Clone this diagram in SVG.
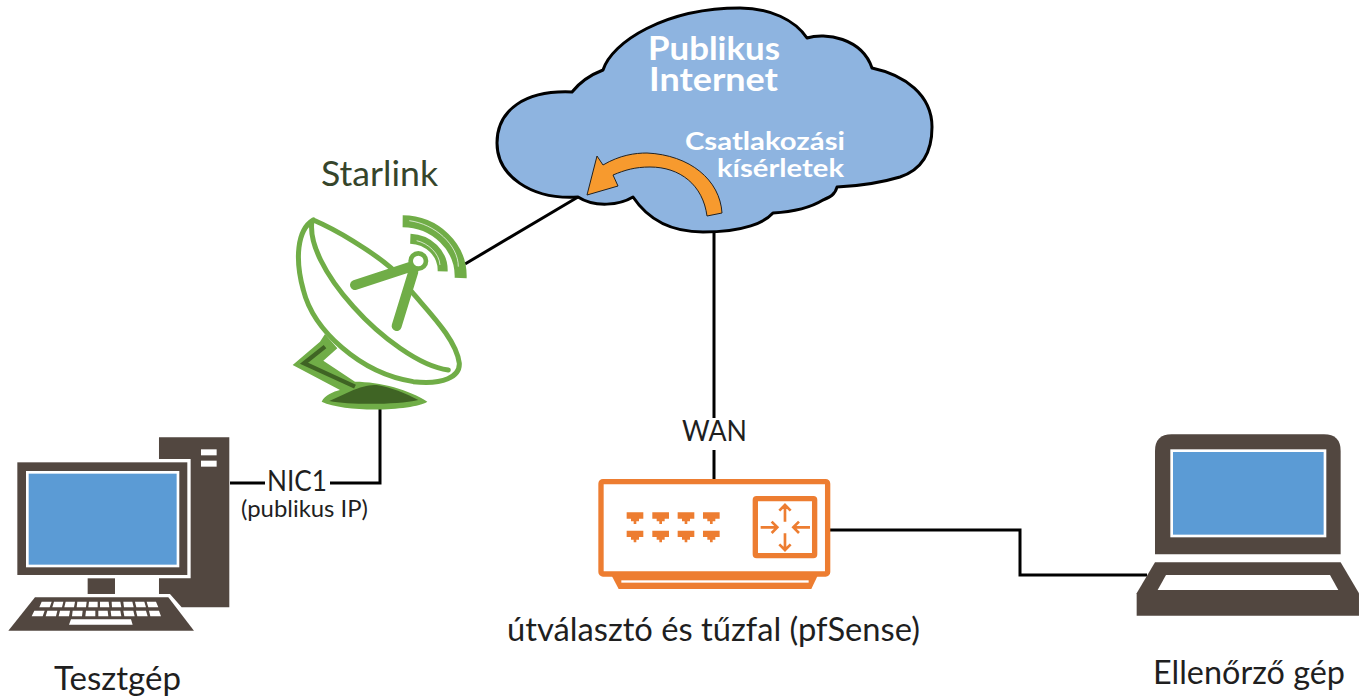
<svg xmlns="http://www.w3.org/2000/svg" width="1359" height="697" viewBox="0 0 1359 697">
<style>
text{font-family:Lato,"Open Sans","DejaVu Sans",sans-serif;fill:#1f1f1f}
.w{fill:#fff;font-weight:700}
.g{fill:none;stroke:#70ad47;stroke-width:15;stroke-linecap:round;stroke-linejoin:round}
.c{fill:none;stroke:#000;stroke-width:3}
.b{fill:#524740}
.s{fill:#5b9bd5;stroke:#fff;stroke-width:8}
.o{fill:#ed7d31}
.ol{fill:none;stroke:#ed7d31;stroke-linejoin:round}
</style>
<rect width="1359" height="697" fill="#fff"/>
<g id="connectors">
<path class="c" d="M465 264L578 197"/>
<path class="c" d="M714 232V418M714 450V482"/>
<path class="c" d="M380 408V483H330M230 483H265"/>
<path class="c" d="M830 530H1020V575H1147"/>
</g>
<g id="cloud">
<path fill="#8eb4e0" stroke="#000" stroke-width="3" stroke-linejoin="round" d="M578 197C530 200 497 175 497 143C497 110 525 90 572 92C580 82 590 75 603 70C612 42 665 8 740 8C770 8 795 20 807 38C825 32 862 38 872 68C905 75 932 95 932 127C932 160 915 172 900 177C880 183 860 186 837 187C835 195 830 197 823 200C810 208 790 212 773 213C765 222 745 232 703 232C665 232 645 215 633 197C620 205 595 208 578 197Z"/>
<path fill="#f79a2e" stroke="#222" stroke-width="1" d="M587 195L597 156L603 165C620 155 635 153 647 153C690 155 720 180 722 213L707 216C703 185 680 167 650 167C635 167 625 170 613 175L618 186Z"/>
<text class="w" x="648" y="60" font-size="33" textLength="132" lengthAdjust="spacingAndGlyphs">Publikus</text>
<text class="w" x="649" y="91" font-size="33" textLength="129" lengthAdjust="spacingAndGlyphs">Internet</text>
<text class="w" x="685" y="150" font-size="25" textLength="160" lengthAdjust="spacingAndGlyphs">Csatlakozási</text>
<text class="w" x="717" y="177" font-size="25" textLength="127" lengthAdjust="spacingAndGlyphs">kísérletek</text>
</g>
<g id="starlink">
<text x="321" y="186" font-size="34" style="fill:#36452b" textLength="117" lengthAdjust="spacingAndGlyphs">Starlink</text>
<g transform="translate(280 200) scale(.3333)">
<path class="g" d="M100 60C50 90 45 180 70 270C100 390 240 520 400 545C490 555 540 530 538 490C530 420 450 340 395 275M100 60C170 90 270 150 335 205M95 70C90 130 130 220 220 320C300 410 420 500 505 510"/>
<path d="M135 402L172 445L130 482L225 545C300 545 390 570 442 605C400 632 200 640 125 605C135 585 160 575 180 570L38 495L120 425Z" fill="#70ad47"/>
<path d="M135 440L72 490L225 560" fill="none" stroke="#3f6424" stroke-width="13"/>
<path d="M148 603L220 570C250 558 270 555 290 555C330 560 380 582 415 600C350 615 210 615 148 603Z" fill="#3f6424"/>
<path d="M225 255L392 200M350 378L400 215" fill="none" stroke="#70ad47" stroke-width="30" stroke-linecap="round"/>
<circle cx="415" cy="183" r="23" fill="#fff" stroke="#70ad47" stroke-width="14"/>
<path d="M368 64C465 65 545 140 542 234" fill="none" stroke="#70ad47" stroke-width="36"/>
<path d="M388 62C465 72 535 135 535 200" fill="none" stroke="#fff" stroke-width="3" opacity=".7"/>
<path d="M391 116C445 118 490 160 488 214" fill="none" stroke="#70ad47" stroke-width="30"/>
<path d="M410 122C445 130 478 160 480 195" fill="none" stroke="#fff" stroke-width="3" opacity=".7"/>
</g>
</g>
<g id="tesztgep">
<g transform="translate(0 430) scale(.3333)">
<path class="b" d="M477 22H688V532H545L510 492H477V445H572V87H477Z"/>
<rect x="603" y="58" width="47" height="18" fill="#fff"/><rect x="603" y="92" width="47" height="18" fill="#fff"/>
<rect class="b" x="52" y="97" width="510" height="338"/>
<rect class="s" x="82" y="127" width="452" height="281"/>
<rect class="b" x="263" y="445" width="82" height="47"/>
<path class="b" d="M105 502H505L582 602H25Z"/>
<path fill="#fff" d="M125 515h30l-6 17h-31zM162 515h28l-4 17h-29zM197 515h28l-3 17h-29zM232 515h28l-2 17h-28zM267 515h26v17h-28zM300 515h26l2 17h-28zM335 515h26l3 17h-28zM370 515h27l4 17h-29zM405 515h28l5 17h-29zM440 515h28l7 17h-30zM103 542h31l-6 17h-33zM142 542h30l-4 17h-31zM180 542h30l-3 17h-31zM218 542h30l-2 17h-30zM258 542h28v17h-30zM295 542h28l2 17h-30zM332 542h29l3 17h-30zM370 542h30l4 17h-31zM408 542h30l5 17h-31zM447 542h30l6 17h-32zM213 568h180l5 16H207z"/>
</g>
<text x="54" y="690" font-size="32" textLength="127" lengthAdjust="spacingAndGlyphs">Tesztgép</text>
</g>
<g id="nic1-label">
<text x="267" y="491" font-size="28" textLength="60" lengthAdjust="spacingAndGlyphs">NIC1</text>
<text x="241" y="517" font-size="23" textLength="127" lengthAdjust="spacingAndGlyphs">(publikus IP)</text>
</g>
<g id="router">
<text x="682" y="441" font-size="28" textLength="65" lengthAdjust="spacingAndGlyphs">WAN</text>
<g transform="translate(590 470) scale(.3333)">
<rect class="ol" x="33" y="35" width="680" height="277" rx="6" stroke-width="16"/>
<path class="o" d="M64 315H684L664 357H86Z"/>
<rect x="94" y="331" width="562" height="7" fill="#fff"/>
<rect class="ol" x="496" y="86" width="178" height="171" rx="4" stroke-width="16"/>
<path fill="none" stroke="#ed7d31" stroke-width="8" d="M585 105V155M568 122L585 105L602 122M585 240V190M568 223L585 240L602 223M512 172H562M545 155L562 172L545 189M660 172H610M627 155L610 172L627 189"/>
<g id="ports" class="o">
<path d="M110 127h50v19h-13v8h-8v8h-8v-8h-8v-8h-13zM187 127h50v19h-13v8h-8v8h-8v-8h-8v-8h-13zM263 127h50v19h-13v8h-8v8h-8v-8h-8v-8h-13zM339 127h50v19h-13v8h-8v8h-8v-8h-8v-8h-13z"/>
<path d="M110 182h50v19h-13v8h-8v8h-8v-8h-8v-8h-13zM187 182h50v19h-13v8h-8v8h-8v-8h-8v-8h-13zM263 182h50v19h-13v8h-8v8h-8v-8h-8v-8h-13zM339 182h50v19h-13v8h-8v8h-8v-8h-8v-8h-13z"/>
</g>
</g>
<text x="507" y="641" font-size="32" textLength="413" lengthAdjust="spacingAndGlyphs">útválasztó és tűzfal (pfSense)</text>
</g>
<g id="ellenorzo">
<g transform="translate(1130 425) scale(.3333)">
<path class="b" d="M75 388V78Q75 28 125 28H582Q632 28 632 78V388Z"/>
<rect class="s" x="125" y="77" width="460" height="256"/>
<path class="b" d="M75 412H632L687 505V572H20V505Z"/>
<path fill="#fff" d="M108 450H600L625 495H83Z"/>
</g>
<text x="1153" y="684" font-size="32" textLength="192" lengthAdjust="spacingAndGlyphs">Ellenőrző gép</text>
</g>
</svg>
